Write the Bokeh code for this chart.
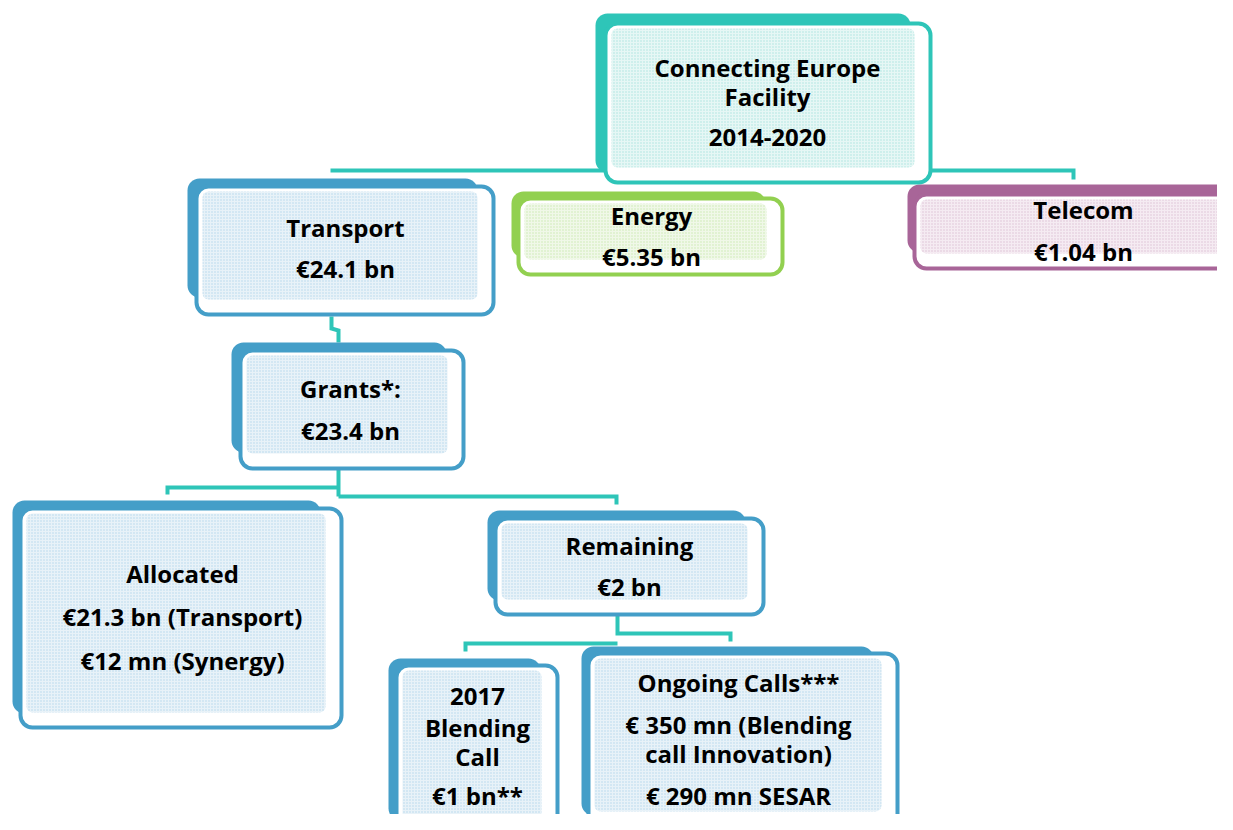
from bokeh.plotting import figure
from bokeh.models import Range1d, ColumnDataSource
from bokeh.core.properties import value
from bokeh.embed import file_html
from bokeh.resources import INLINE

# ---------------- data ----------------
node_ids = ["cef", "transport", "energy", "telecom", "grants",
            "allocated", "remaining", "blending", "ongoing"]
node_titles = ["Connecting Europe\nFacility", "Transport", "Energy", "Telecom", "Grants*:",
               "Allocated", "Remaining", "2017\nBlending\nCall", "Ongoing Calls***"]
node_amounts = ["2014-2020", "€24.1 bn", "€5.35 bn", "€1.04 bn", "€23.4 bn",
                "€21.3 bn (Transport)\n€12 mn (Synergy)", "€2 bn", "€1 bn**",
                "€ 350 mn (Blending\ncall Innovation)\n€ 290 mn SESAR"]
node_group = ["cef", "transport", "energy", "telecom", "transport",
              "transport", "transport", "transport", "transport"]

# ---------------- styles ----------------
TEAL = "#2ec5b8"
group_color = {"cef": TEAL, "transport": "#449ec8", "energy": "#92d050", "telecom": "#a86598"}
group_tint = {"cef": "#e6f7f5", "transport": "#e8f2f8", "energy": "#f0f8e8", "telecom": "#f5ebf2"}
group_dot = {"cef": "#a9e4de", "transport": "#b3d6ea", "energy": "#cbe8b0", "telecom": "#dcc0d5"}

# ---------------- layout (screen px) ----------------
# shadow (l,t,r,b), outline (l,t,r,b)
layout = {
    "cef":       dict(sh=(595, 13, 910, 172),   ol=(605, 23, 930, 182),   cx=767),
    "transport": dict(sh=(187, 178, 477, 297),  ol=(196, 186, 493, 314),  cx=345),
    "energy":    dict(sh=(511, 191, 765, 257),  ol=(518, 198, 782, 274),  cx=651),
    "telecom":   dict(sh=(907, 184, 1240, 252), ol=(914, 194, 1250, 268), cx=1083),
    "grants":    dict(sh=(231, 342, 446, 452),  ol=(240, 350, 463, 468),  cx=350),
    "allocated": dict(sh=(12, 500, 320, 713),   ol=(20, 508, 341, 727),   cx=182),
    "remaining": dict(sh=(487, 510, 745, 600),  ol=(495, 518, 763, 614),  cx=629),
    "blending":  dict(sh=(388, 658, 540, 820),  ol=(396, 665, 557, 834),  cx=477),
    "ongoing":   dict(sh=(581, 646, 873, 815),  ol=(588, 653, 897, 826),  cx=738),
}
line_y = {
    "cef": [67, 96, 137],
    "transport": [227, 268],
    "energy": [215, 256],
    "telecom": [209, 251],
    "grants": [388, 430],
    "allocated": [573, 616, 660],
    "remaining": [545, 586],
    "blending": [696, 727, 756, 795],
    "ongoing": [682, 724, 753, 795],
}
connectors = [
    ([330, 1073, 1073], [170, 170, 179]),
    ([331, 331, 338, 338], [316, 328, 330, 342]),
    ([338, 338], [466, 496]),
    ([167, 167, 338], [494, 487, 487]),
    ([338, 616, 616], [496, 496, 504]),
    ([617, 617, 730, 730], [612, 633, 633, 641]),
    ([465, 465, 617], [651, 643, 643]),
]

p = figure(width=1217, height=814, x_range=Range1d(0, 1217), y_range=Range1d(814, 0),
           output_backend="svg", toolbar_location=None, min_border=0,
           background_fill_color="white", border_fill_color="white")
p.axis.visible = False
p.grid.visible = False
p.outline_line_color = None

# connectors
p.multi_line(xs=[c[0] for c in connectors], ys=[c[1] for c in connectors],
             line_color=TEAL, line_width=4, line_join="miter", line_cap="butt")

sh = dict(l=[], t=[], r=[], b=[], c=[])
ol = dict(l=[], t=[], r=[], b=[], c=[])
fl = dict(l=[], t=[], r=[], b=[], c=[], h=[])
tx = dict(x=[], y=[], text=[])
for nid, title, amt, grp in zip(node_ids, node_titles, node_amounts, node_group):
    L = layout[nid]
    col = group_color[grp]
    for d, box, c in ((sh, L["sh"], col), (ol, L["ol"], col)):
        d["l"].append(box[0]); d["t"].append(box[1]); d["r"].append(box[2]); d["b"].append(box[3]); d["c"].append(c)
    o = L["ol"]
    fl["l"].append(o[0] + 6); fl["t"].append(o[1] + 5); fl["r"].append(o[2] - 16); fl["b"].append(o[3] - 15)
    fl["c"].append(group_tint[grp]); fl["h"].append(group_dot[grp])
    lines = title.split("\n") + amt.split("\n")
    for s, yy in zip(lines, line_y[nid]):
        tx["x"].append(L["cx"]); tx["y"].append(yy); tx["text"].append(s)

p.quad(left="l", right="r", top="t", bottom="b", source=ColumnDataSource(sh),
       fill_color="c", line_color=None, border_radius=12)
p.quad(left="l", right="r", top="t", bottom="b", source=ColumnDataSource(ol),
       fill_color="white", line_color="c", line_width=4, border_radius=12)
p.quad(left="l", right="r", top="t", bottom="b", source=ColumnDataSource(fl),
       fill_color="c", line_color=None, border_radius=6,
       hatch_pattern="dot", hatch_color="h", hatch_scale=3, hatch_weight=1.5)

p.text(x="x", y="y", text="text", source=ColumnDataSource(tx),
       text_align="center", text_baseline="middle",
       text_font=value("Open Sans"), text_font_style="bold",
       text_font_size="24px", text_color="black")

open("out.html", "w").write(file_html(p, INLINE))
